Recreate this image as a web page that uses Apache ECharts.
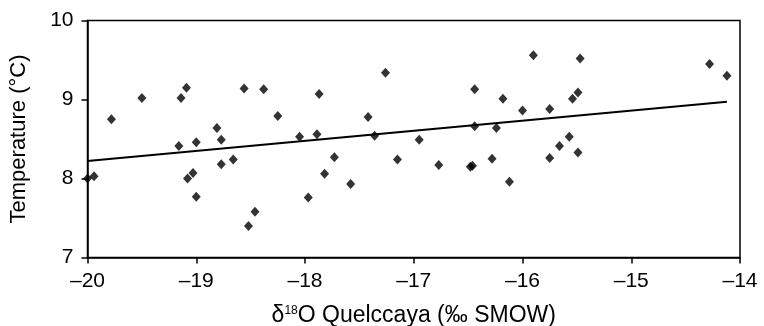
<!DOCTYPE html>
<html>
<head>
<meta charset="utf-8">
<script src="https://cdn.jsdelivr.net/npm/echarts@6/dist/echarts.min.js"></script>
<style>
  html, body { margin: 0; padding: 0; background: #fff; }
  #chart { width: 764px; height: 326px; }
</style>
</head>
<body>
<div id="chart"></div>
<script>
// d18O (x) and temperature (y)
const d18O = [
  -20.0, -19.94, -19.78, -19.5, -19.14, -19.09, -19.16, -19.0, -19.03, -19.08,
  -19.0, -18.81, -18.77, -18.77, -18.66, -18.56, -18.52, -18.46, -18.38, -18.25,
  -18.05, -17.97, -17.89, -17.87, -17.82, -17.73, -17.58, -17.42, -17.36, -17.26,
  -17.15, -16.95, -16.77, -16.48, -16.46, -16.44, -16.44, -16.28, -16.24, -16.18,
  -16.12, -16.0, -15.9, -15.75, -15.75, -15.66, -15.57, -15.54, -15.49, -15.47,
  -15.49, -14.28, -14.12,
]
const temperature = [
  8.0, 8.03, 8.75, 9.02, 9.02, 9.15, 8.41, 8.46, 8.07, 8.0,
  7.77, 8.64, 8.49, 8.18, 8.24, 9.14, 7.4, 7.58, 9.13, 8.79,
  8.53, 7.76, 8.56, 9.07, 8.06, 8.27, 7.93, 8.78, 8.54, 9.34,
  8.24, 8.49, 8.17, 8.15, 8.16, 9.13, 8.66, 8.25, 8.64, 9.01,
  7.96, 8.86, 9.56, 8.88, 8.26, 8.41, 8.53, 9.01, 9.09, 9.52,
  8.33, 9.45, 9.3,
]
// regression line end points
const fitX = [-20, -14.12]
const fitY = [8.22, 8.97]

const xTicks = [-20, -19, -18, -17, -16, -15, -14]
const yTicks = [7, 8, 9, 10]

const font = 'Liberation Sans, Arial, Helvetica, sans-serif'
const ink = '#000'
const dash = (v) => String(v).replace('-', '\u2013')

const chart = echarts.init(document.getElementById('chart'))
chart.setOption({
  animation: false,
  backgroundColor: '#fff',
  grid: {
    left: 87.5, right: 24, top: 20.5, bottom: 68.5,
    outerBoundsMode: 'none',
    containLabel: false,
    show: true, borderColor: ink, borderWidth: 1.5,
  },
  xAxis: {
    type: 'value',
    min: xTicks[0],
    max: xTicks[xTicks.length - 1],
    interval: 1,
    name: '{a|\u03b4}{s|18}{a|O Quelccaya (\u2030 SMOW)}',
    nameLocation: 'middle',
    nameGap: 47,
    nameTextStyle: {
      rich: {
        a: { fontFamily: font, fontSize: 23, color: ink },
        s: { fontFamily: font, fontSize: 12, color: ink, verticalAlign: 'top', padding: [0, 0, 9, 0] },
      },
    },
    axisLine: { lineStyle: { color: ink, width: 1.5 } },
    axisTick: { inside: false, length: 6, lineStyle: { color: ink, width: 1.5 } },
    axisLabel: { color: ink, fontFamily: font, fontSize: 21, margin: 13, formatter: dash },
    splitLine: { show: false },
  },
  yAxis: {
    type: 'value',
    min: yTicks[0],
    max: yTicks[yTicks.length - 1],
    interval: 1,
    name: 'Temperature (\u00b0C)',
    nameLocation: 'middle',
    nameGap: 58,
    nameTextStyle: { fontFamily: font, fontSize: 22, color: ink },
    axisLine: { lineStyle: { color: ink, width: 1.5 } },
    axisTick: { inside: false, length: 6, lineStyle: { color: ink, width: 1.5 } },
    axisLabel: { color: ink, fontFamily: font, fontSize: 21, margin: 14 },
    splitLine: { show: false },
  },
  series: [
    {
      type: 'scatter',
      data: d18O.map((x, i) => [x, temperature[i]]),
      symbol: 'diamond',
      symbolSize: [9, 10],
      itemStyle: { color: ink },
    },
    {
      type: 'line',
      data: fitX.map((x, i) => [x, fitY[i]]),
      symbol: 'none',
      lineStyle: { color: ink, width: 2 },
    },
  ],
})
</script>
</body>
</html>
